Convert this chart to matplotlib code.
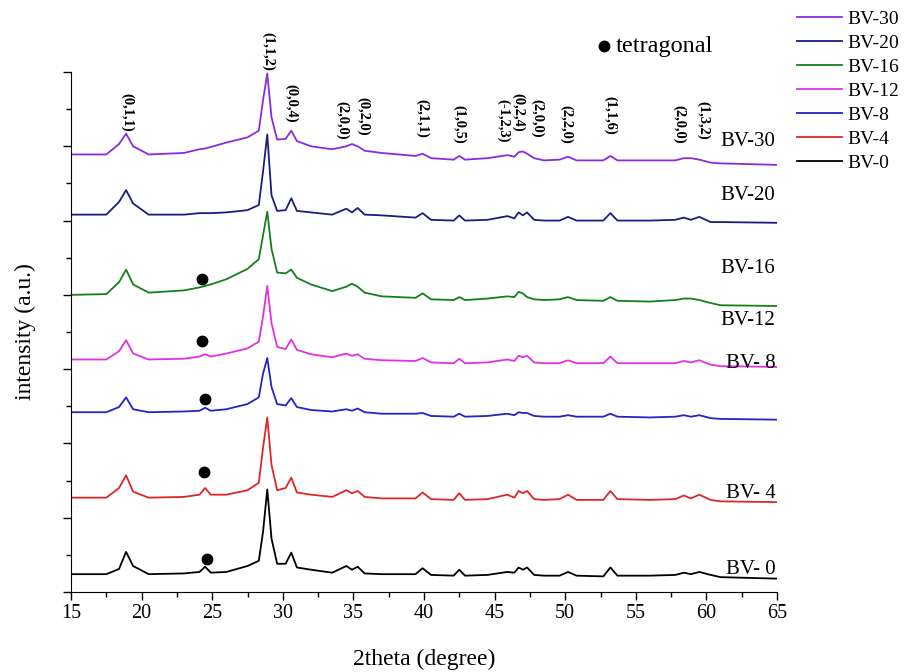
import matplotlib
matplotlib.use("Agg")
import matplotlib.pyplot as plt
from matplotlib.ticker import MultipleLocator, NullFormatter

plt.rcParams['font.family'] = 'serif'
plt.rcParams['font.serif'] = ['Liberation Serif', 'DejaVu Serif']

# 2theta grid (degree) and stacked intensities (a.u., offset per sample)
two_theta = [15, 17.5, 18.4, 18.9, 19.4, 20.5, 23, 24.1, 24.5, 24.9,
             26, 27.5, 28.3, 28.6, 28.9, 29.2, 29.6, 30.2, 30.6, 31.0,
             32, 33.5, 34.5, 34.9, 35.3, 35.8, 37, 39.4, 39.9, 40.5,
             42.1, 42.5, 42.9, 44.5, 45.9, 46.4, 46.7, 47.0, 47.3, 47.8,
             48.5, 49.6, 50.2, 50.8, 52.7, 53.2, 53.7, 56, 57.8, 58.4,
             58.9, 59.5, 60.3, 61, 65]

bv0 = [0.24, 0.24, 0.31, 0.54, 0.35, 0.24, 0.25, 0.27, 0.34, 0.26,
       0.27, 0.35, 0.42, 0.81, 1.38, 0.72, 0.38, 0.38, 0.53, 0.33,
       0.30, 0.26, 0.35, 0.30, 0.34, 0.25, 0.24, 0.24, 0.32, 0.23,
       0.22, 0.30, 0.22, 0.23, 0.27, 0.26, 0.33, 0.30, 0.33, 0.23,
       0.22, 0.22, 0.27, 0.22, 0.21, 0.33, 0.22, 0.22, 0.23, 0.26,
       0.24, 0.27, 0.23, 0.20, 0.18]
bv4 = [1.27, 1.27, 1.40, 1.57, 1.35, 1.27, 1.28, 1.31, 1.40, 1.31,
       1.31, 1.37, 1.47, 1.94, 2.35, 1.71, 1.37, 1.40, 1.54, 1.34,
       1.31, 1.28, 1.37, 1.33, 1.36, 1.28, 1.26, 1.26, 1.34, 1.25,
       1.24, 1.33, 1.24, 1.25, 1.31, 1.27, 1.36, 1.33, 1.36, 1.25,
       1.24, 1.25, 1.31, 1.24, 1.24, 1.36, 1.25, 1.24, 1.25, 1.30,
       1.26, 1.31, 1.24, 1.22, 1.21]
bv8 = [2.42, 2.42, 2.49, 2.62, 2.46, 2.42, 2.43, 2.44, 2.48, 2.44,
       2.46, 2.53, 2.62, 2.94, 3.15, 2.76, 2.53, 2.51, 2.61, 2.49,
       2.45, 2.43, 2.46, 2.44, 2.47, 2.42, 2.40, 2.40, 2.41, 2.37,
       2.36, 2.40, 2.36, 2.37, 2.40, 2.38, 2.42, 2.41, 2.41, 2.37,
       2.36, 2.36, 2.38, 2.36, 2.36, 2.40, 2.36, 2.35, 2.36, 2.38,
       2.36, 2.38, 2.34, 2.33, 2.32]
bv12 = [3.13, 3.13, 3.24, 3.39, 3.21, 3.13, 3.14, 3.17, 3.20, 3.17,
        3.21, 3.28, 3.37, 3.71, 4.12, 3.62, 3.30, 3.27, 3.40, 3.26,
        3.20, 3.16, 3.21, 3.18, 3.20, 3.14, 3.12, 3.11, 3.15, 3.09,
        3.08, 3.14, 3.08, 3.09, 3.13, 3.11, 3.18, 3.16, 3.18, 3.09,
        3.08, 3.08, 3.12, 3.08, 3.08, 3.17, 3.08, 3.08, 3.08, 3.11,
        3.09, 3.12, 3.06, 3.04, 3.03]
bv16 = [4.00, 4.01, 4.17, 4.34, 4.14, 4.03, 4.06, 4.10, 4.12, 4.14,
        4.21, 4.35, 4.48, 4.80, 5.12, 4.62, 4.30, 4.29, 4.34, 4.23,
        4.14, 4.05, 4.11, 4.15, 4.11, 4.03, 3.98, 3.96, 4.02, 3.94,
        3.93, 3.97, 3.93, 3.95, 3.98, 3.97, 4.04, 4.02, 3.97, 3.94,
        3.93, 3.94, 3.97, 3.93, 3.92, 3.97, 3.92, 3.91, 3.93, 3.95,
        3.95, 3.93, 3.89, 3.86, 3.85]
bv20 = [5.08, 5.08, 5.25, 5.41, 5.23, 5.08, 5.08, 5.10, 5.10, 5.10,
        5.11, 5.14, 5.21, 5.66, 6.16, 5.34, 5.13, 5.14, 5.30, 5.13,
        5.11, 5.08, 5.16, 5.11, 5.17, 5.08, 5.07, 5.04, 5.10, 5.01,
        5.00, 5.07, 5.00, 5.01, 5.06, 5.03, 5.11, 5.07, 5.11, 5.01,
        5.00, 5.00, 5.05, 5.00, 5.00, 5.10, 5.00, 5.00, 5.01, 5.04,
        5.01, 5.05, 4.98, 4.98, 4.97]
bv30 = [5.89, 5.89, 6.03, 6.17, 6.00, 5.89, 5.91, 5.96, 5.97, 5.99,
        6.05, 6.12, 6.21, 6.62, 6.98, 6.39, 6.09, 6.10, 6.21, 6.07,
        6.00, 5.96, 6.00, 6.03, 6.00, 5.94, 5.91, 5.87, 5.90, 5.84,
        5.82, 5.87, 5.82, 5.84, 5.88, 5.86, 5.92, 5.93, 5.90, 5.84,
        5.81, 5.82, 5.86, 5.81, 5.81, 5.87, 5.81, 5.81, 5.81, 5.84,
        5.84, 5.82, 5.78, 5.77, 5.75]

names = ["BV-0", "BV-4", "BV-8", "BV-12", "BV-16", "BV-20", "BV-30"]
curve_text = ["BV- 0", "BV- 4", "BV- 8", "BV-12", "BV-16", "BV-20", "BV-30"]
curve_text_y = [0.30, 1.32, 3.08, 3.66, 4.36, 5.34, 6.06]
colors = ["black", "#e02626", "#2323c8", "#e032e0", "#14801a", "#1c1c80", "#8a2be2"]
series = [bv0, bv4, bv8, bv12, bv16, bv20, bv30]

# tetragonal phase reflection (~24.5 deg)
tetra_x = [24.6, 24.45, 24.5, 24.25, 24.25]
tetra_y = [0.45, 1.62, 2.60, 3.38, 4.22]

# Miller indices of the monoclinic reflections
hkl_labels = ["(0,1,1)", "(1,1,2)", "(0,0,4)", "(2,0,0)", "(0,2,0)", "(2,1,1)",
              "(1,0,5)", "(-1,2,3)", "(0,2,4)", "(2,0,0)", "(2,2,0)", "(1,1,6)",
              "(2,0,0)", "(1,3,2)"]
hkl_x = [18.97, 28.95, 30.58, 34.2, 35.7, 39.86, 42.5, 45.6, 46.7, 48.0,
         50.1, 53.2, 58.1, 59.76]
hkl_y = [6.46, 7.28, 6.58, 6.35, 6.41, 6.38, 6.29, 6.34, 6.46, 6.37,
         6.29, 6.41, 6.30, 6.35]

fig = plt.figure(figsize=(9.06, 6.72), dpi=100)
ax = fig.add_axes([71 / 906, 80 / 672, 706 / 906, 520 / 672])

lines = []
for name, col, y in zip(names, colors, series):
    ln, = ax.plot(two_theta, y, color=col, lw=1.3, label=name)
    lines.append(ln)

for t, ty in zip(curve_text, curve_text_y):
    ax.text(64.9, ty, t, ha="right", va="center", fontsize=15)

ax.plot(tetra_x, tetra_y, "o", color="black", ms=7.5, ls="none")

for lab, hx, hy in zip(hkl_labels, hkl_x, hkl_y):
    ax.text(hx, hy, lab, rotation=270, ha="center", va="center",
            fontsize=10.5, fontweight="bold")

# phase marker key
ax.plot([52.75], [7.35], "o", color="black", ms=7.5, clip_on=False)
ax.text(53.55, 7.35, "tetragonal", ha="left", va="center", fontsize=17.5)

ax.set_xlim(15, 65)
ax.set_ylim(0, 7)
ax.spines["top"].set_visible(False)
ax.spines["right"].set_visible(False)
ax.xaxis.set_major_locator(MultipleLocator(5))
ax.xaxis.set_minor_locator(MultipleLocator(2.5))
ax.yaxis.set_major_locator(MultipleLocator(1))
ax.yaxis.set_minor_locator(MultipleLocator(0.5))
ax.yaxis.set_major_formatter(NullFormatter())
ax.tick_params(axis="both", which="major", direction="out", length=6, width=1)
ax.tick_params(axis="both", which="minor", direction="out", length=3.5, width=1)
ax.tick_params(axis="x", labelsize=14.5, pad=3)

ax.set_xlabel("2theta (degree)", fontsize=17, labelpad=18)
ax.set_ylabel("intensity (a.u.)", fontsize=17, labelpad=16)

fig.legend(handles=lines[::-1], loc="upper left",
           bbox_to_anchor=(797 / 906, 1 - 10 / 672), frameon=False,
           fontsize=14, handlelength=2.3, labelspacing=0.33,
           handletextpad=0.3, borderaxespad=0, borderpad=0)

fig.savefig("out.png", dpi=100)
